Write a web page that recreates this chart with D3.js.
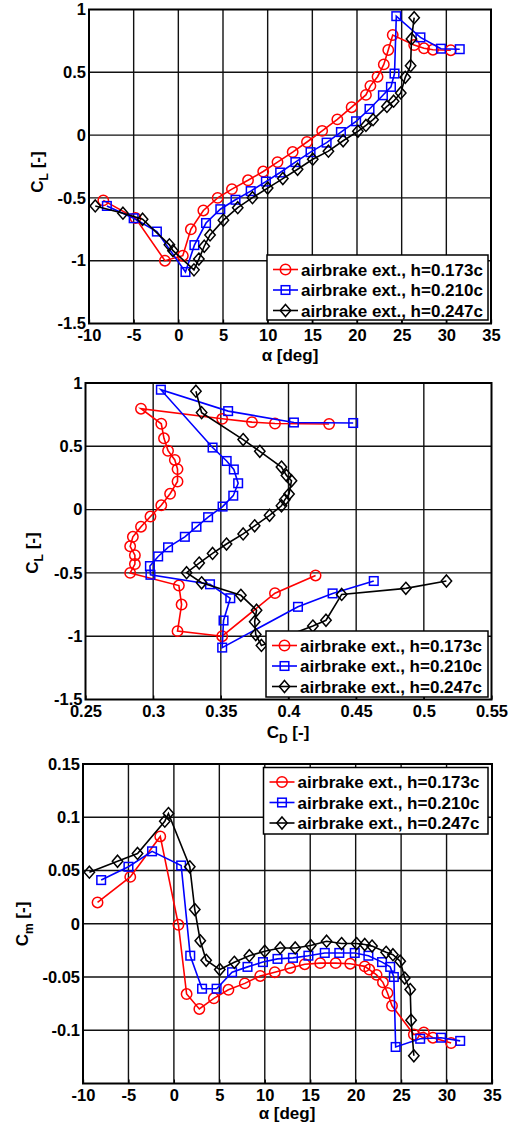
<!DOCTYPE html>
<html>
<head>
<meta charset="utf-8">
<script src="https://cdn.jsdelivr.net/npm/d3@7"></script>
<style>
  body { margin: 0; background: #fff; }
  svg text { font-family: "Liberation Sans", Arial, sans-serif; font-weight: bold; fill: #000; }
</style>
</head>
<body>
<div id="chart"></div>
<script>
// h=0.173c (red, circles)
const alpha173 = [-8.4, -4.8, -1.5, 0.5, 1.4, 2.8, 4.4, 6.0, 7.8, 9.5, 11.1, 12.8, 14.4, 16.1, 17.8, 19.4, 21.0, 21.5, 22.3, 23.0, 23.5, 24.0, 26.4, 27.5, 28.5, 30.5];
const cl173 = [-0.52, -0.66, -1.00, -0.96, -0.75, -0.60, -0.50, -0.43, -0.36, -0.29, -0.215, -0.135, -0.055, 0.034, 0.125, 0.222, 0.32, 0.392, 0.465, 0.563, 0.678, 0.797, 0.717, 0.691, 0.680, 0.676];
const cd173 = [0.420, 0.390, 0.351, 0.318, 0.321, 0.319, 0.283, 0.2865, 0.2865, 0.283, 0.285, 0.291, 0.298, 0.306, 0.3125, 0.318, 0.318, 0.316, 0.311, 0.308, 0.306, 0.291, 0.351, 0.373, 0.390, 0.430];
const cm173 = [0.020, 0.044, 0.082, -0.001, -0.066, -0.080, -0.070, -0.062, -0.056, -0.049, -0.0455, -0.0415, -0.038, -0.037, -0.037, -0.0375, -0.040, -0.043, -0.048, -0.055, -0.065, -0.077, -0.104, -0.102, -0.107, -0.112];

// h=0.210c (blue, squares)
const alpha210 = [-8.0, -5.0, -2.4, 0.8, 1.8, 3.1, 4.7, 6.4, 8.1, 9.8, 11.4, 13.1, 14.8, 16.6, 18.2, 19.9, 21.4, 22.9, 23.8, 24.2, 24.4, 27.1, 29.4, 31.5];
const cl210 = [-0.564, -0.662, -0.768, -1.09, -0.876, -0.70, -0.59, -0.515, -0.446, -0.37, -0.298, -0.215, -0.136, -0.06, 0.024, 0.11, 0.208, 0.317, 0.384, 0.49, 0.947, 0.778, 0.688, 0.684];
const cd210 = [0.463, 0.4326, 0.407, 0.351, 0.352, 0.357, 0.342, 0.298, 0.2976, 0.3037, 0.311, 0.3234, 0.332, 0.3406, 0.3513, 0.3592, 0.3628, 0.3596, 0.3543, 0.3439, 0.3057, 0.3554, 0.404, 0.4478];
const cm210 = [0.041, 0.0535, 0.068, 0.0547, -0.030, -0.061, -0.061, -0.0455, -0.0405, -0.036, -0.033, -0.032, -0.030, -0.0274, -0.0274, -0.0274, -0.030, -0.036, -0.0405, -0.050, -0.1157, -0.108, -0.107, -0.110];

// h=0.247c (black, diamonds)
const alpha247 = [-9.3, -6.2, -4.0, -1.0, -0.6, 1.75, 2.3, 2.9, 3.55, 5.05, 6.65, 8.3, 10.0, 11.7, 13.35, 15.05, 16.8, 18.45, 20.1, 21.0, 21.8, 23.35, 24.1, 24.9, 25.4, 26.0, 26.1, 26.4];
const cl247 = [-0.564, -0.622, -0.67, -0.874, -0.92, -1.073, -0.987, -0.885, -0.795, -0.677, -0.578, -0.498, -0.422, -0.346, -0.272, -0.192, -0.128, -0.045, 0.03, 0.077, 0.123, 0.228, 0.27, 0.336, 0.46, 0.553, 0.766, 0.935];
const cd247 = [0.5167, 0.4867, 0.4393, 0.4277, 0.418, 0.38, 0.3758, 0.375, 0.3764, 0.3648, 0.3358, 0.3247, 0.334, 0.3439, 0.3542, 0.3665, 0.375, 0.386, 0.3948, 0.3972, 0.4004, 0.4022, 0.3985, 0.3948, 0.3788, 0.3665, 0.3358, 0.3316];
const cm247 = [0.0484, 0.0587, 0.066, 0.0963, 0.1035, 0.0535, 0.0133, -0.016, -0.0343, -0.043, -0.0362, -0.030, -0.0258, -0.0227, -0.0227, -0.0205, -0.0164, -0.0186, -0.0186, -0.0195, -0.021, -0.0268, -0.029, -0.0352, -0.051, -0.0618, -0.0906, -0.124];

const seriesNames = ['airbrake ext., h=0.173c', 'airbrake ext., h=0.210c', 'airbrake ext., h=0.247c'];
const seriesColors = ['#ff0000', '#0000ff', '#000000'];
const seriesMarkers = ['circle', 'square', 'diamond'];

// tick labels
const alphaTicks = [-10, -5, 0, 5, 10, 15, 20, 25, 30, 35];
const clTicks = [-1.5, -1, -0.5, 0, 0.5, 1];
const cdTicks = [0.25, 0.3, 0.35, 0.4, 0.45, 0.5, 0.55];
const cmTicks = [-0.1, -0.05, 0, 0.05, 0.1, 0.15];

function zipSeries(xs, ys) {
    return xs.map((x, i) => ({x: x, y: ys[i]}));
}

function drawMarker(g, type, color) {
    if (type === 'circle') {
        g.append('circle').attr('r', 5.2)
    } else if (type === 'square') {
        g.append('rect').attr('x', -4.3).attr('y', -4.3).attr('width', 8.6).attr('height', 8.6)
    } else {
        g.append('path').attr('d', 'M0,-6L5.2,0L0,6L-5.2,0Z')
    }
    g.selectAll('*').attr('fill', 'none').attr('stroke', color).attr('stroke-width', 1.5)
}

function addTitle(sel, parts) {
    parts.forEach((p, i) => {
        const t = sel.append('tspan').text(p.t)
        if (p.sub) t.attr('font-size', 12).attr('dy', 5)
        else if (i > 0 && parts[i - 1].sub) t.attr('dy', -5)
    })
}

class CoeffPlot {
    constructor(_config, _data) {
        this.config = {
            parentElement: _config.parentElement,
            box: _config.box,
            xDomain: _config.xDomain,
            yDomain: _config.yDomain,
            xTicks: _config.xTicks,
            yTicks: _config.yTicks,
            xTitle: _config.xTitle,
            yTitle: _config.yTitle,
            xTitlePos: _config.xTitlePos,
            yTitlePos: _config.yTitlePos,
            legendBox: _config.legendBox
        }
        this.data = _data;
        this.initVis();
    }
    initVis() {
        let vis = this;
        const b = vis.config.box;

        vis.xScale = d3.scaleLinear().domain(vis.config.xDomain).range([b.left, b.right])
        vis.yScale = d3.scaleLinear().domain(vis.config.yDomain).range([b.bottom, b.top])

        vis.svg = d3.select(vis.config.parentElement)
        vis.gridG = vis.svg.append('g')
        vis.visG = vis.svg.append('g')
        vis.axisG = vis.svg.append('g')
        vis.legendG = vis.svg.append('g')
    }
    renderVis() {
        let vis = this;
        const b = vis.config.box;
        const fmt = d => String(+d.toFixed(2));

        // grid lines (solid, inner ticks only)
        const xIn = vis.config.xTicks.filter(d => d > vis.config.xDomain[0] && d < vis.config.xDomain[1])
        const yIn = vis.config.yTicks.filter(d => d > vis.config.yDomain[0] && d < vis.config.yDomain[1])
        vis.gridG.selectAll('.vgrid').data(xIn).join('line')
            .attr('class', 'vgrid')
            .attr('x1', d => vis.xScale(d)).attr('x2', d => vis.xScale(d))
            .attr('y1', b.top).attr('y2', b.bottom)
        vis.gridG.selectAll('.hgrid').data(yIn).join('line')
            .attr('class', 'hgrid')
            .attr('x1', b.left).attr('x2', b.right)
            .attr('y1', d => vis.yScale(d)).attr('y2', d => vis.yScale(d))
        vis.gridG.selectAll('line').attr('stroke', '#111').attr('stroke-width', 1.4)

        // series lines and markers
        const line = d3.line().x(d => vis.xScale(d.x)).y(d => vis.yScale(d.y))
        vis.data.forEach((s, i) => {
            vis.visG.append('path')
                .datum(s)
                .attr('d', line)
                .attr('fill', 'none')
                .attr('stroke', seriesColors[i])
                .attr('stroke-width', 1.6)
            vis.visG.selectAll('.m' + i).data(s).join('g')
                .attr('class', 'm' + i)
                .attr('transform', d => `translate(${vis.xScale(d.x)},${vis.yScale(d.y)})`)
                .each(function () { drawMarker(d3.select(this), seriesMarkers[i], seriesColors[i]) })
        })

        // axes: labels only, frame drawn separately
        const xAxis = d3.axisBottom(vis.xScale).tickValues(vis.config.xTicks).tickSize(4).tickPadding(2).tickFormat(fmt)
        const yAxis = d3.axisLeft(vis.yScale).tickValues(vis.config.yTicks).tickSize(0).tickPadding(3).tickFormat(fmt)
        const xAxisG = vis.axisG.append('g').attr('transform', `translate(0,${b.bottom})`).call(xAxis)
        const yAxisG = vis.axisG.append('g').attr('transform', `translate(${b.left},0)`).call(yAxis)
        xAxisG.selectAll('.tick line').attr('y2', -4).attr('stroke', '#000').attr('stroke-width', 1.3)
        ;[xAxisG, yAxisG].forEach(g => {
            g.select('.domain').remove()
            g.selectAll('text').attr('font-size', 16.5).attr('fill', '#000')
        })
        xAxisG.selectAll('text').attr('dy', '0.72em')

        vis.axisG.append('rect')
            .attr('x', b.left).attr('y', b.top)
            .attr('width', b.right - b.left).attr('height', b.bottom - b.top)
            .attr('fill', 'none').attr('stroke', '#000').attr('stroke-width', 2)

        // axis titles
        const xt = vis.axisG.append('text')
            .attr('x', vis.config.xTitlePos[0]).attr('y', vis.config.xTitlePos[1])
            .attr('text-anchor', 'middle').attr('font-size', 17)
        addTitle(xt, vis.config.xTitle)
        const yt = vis.axisG.append('text')
            .attr('transform', `translate(${vis.config.yTitlePos[0]},${vis.config.yTitlePos[1]}) rotate(-90)`)
            .attr('text-anchor', 'middle').attr('font-size', 17)
        addTitle(yt, vis.config.yTitle)

        // legend
        const lb = vis.config.legendBox
        vis.legendG.append('rect')
            .attr('x', lb.left).attr('y', lb.top)
            .attr('width', lb.right - lb.left).attr('height', lb.bottom - lb.top)
            .attr('fill', '#fff').attr('stroke', '#000').attr('stroke-width', 1.5)
        seriesNames.forEach((name, i) => {
            const y = lb.top + 14.5 + i * 20.5
            vis.legendG.append('line')
                .attr('x1', lb.left + 6).attr('x2', lb.left + 31)
                .attr('y1', y).attr('y2', y)
                .attr('stroke', seriesColors[i]).attr('stroke-width', 1.6)
            const mg = vis.legendG.append('g').attr('transform', `translate(${lb.left + 18.5},${y})`)
            drawMarker(mg, seriesMarkers[i], seriesColors[i])
            vis.legendG.append('text')
                .attr('x', lb.left + 34).attr('y', y).attr('dy', '0.36em')
                .attr('font-size', 17)
                .text(name)
        })
    }
}

const svg = d3.select('#chart').append('svg').attr('width', 509).attr('height', 1128)

const clPlot = new CoeffPlot({
    parentElement: svg.append('g').node(),
    box: {left: 89, right: 491, top: 9.5, bottom: 323.5},
    xDomain: [-10, 35], yDomain: [-1.5, 1],
    xTicks: alphaTicks, yTicks: clTicks,
    xTitle: [{t: 'α [deg]'}],
    yTitle: [{t: 'C'}, {t: 'L', sub: true}, {t: ' [-]'}],
    xTitlePos: [290, 361], yTitlePos: [43, 172],
    legendBox: {left: 267, right: 488, top: 255, bottom: 320}
}, [zipSeries(alpha173, cl173), zipSeries(alpha210, cl210), zipSeries(alpha247, cl247)])
clPlot.renderVis()

const polarPlot = new CoeffPlot({
    parentElement: svg.append('g').node(),
    box: {left: 85.5, right: 491.5, top: 383, bottom: 699.5},
    xDomain: [0.25, 0.55], yDomain: [-1.5, 1],
    xTicks: cdTicks, yTicks: clTicks,
    xTitle: [{t: 'C'}, {t: 'D', sub: true}, {t: ' [-]'}],
    yTitle: [{t: 'C'}, {t: 'L', sub: true}, {t: ' [-]'}],
    xTitlePos: [288, 738], yTitlePos: [38, 553],
    legendBox: {left: 266, right: 488, top: 631, bottom: 697}
}, [zipSeries(cd173, cl173), zipSeries(cd210, cl210), zipSeries(cd247, cl247)])
polarPlot.renderVis()

const cmPlot = new CoeffPlot({
    parentElement: svg.append('g').node(),
    box: {left: 83, right: 492, top: 764, bottom: 1083.5},
    xDomain: [-10, 35], yDomain: [-0.15, 0.15],
    xTicks: alphaTicks, yTicks: cmTicks,
    xTitle: [{t: 'α [deg]'}],
    yTitle: [{t: 'C'}, {t: 'm', sub: true}, {t: ' [-]'}],
    xTitlePos: [287, 1119], yTitlePos: [28, 924],
    legendBox: {left: 263.5, right: 488, top: 767.5, bottom: 834}
}, [zipSeries(alpha173, cm173), zipSeries(alpha210, cm210), zipSeries(alpha247, cm247)])
cmPlot.renderVis()
</script>
</body>
</html>
